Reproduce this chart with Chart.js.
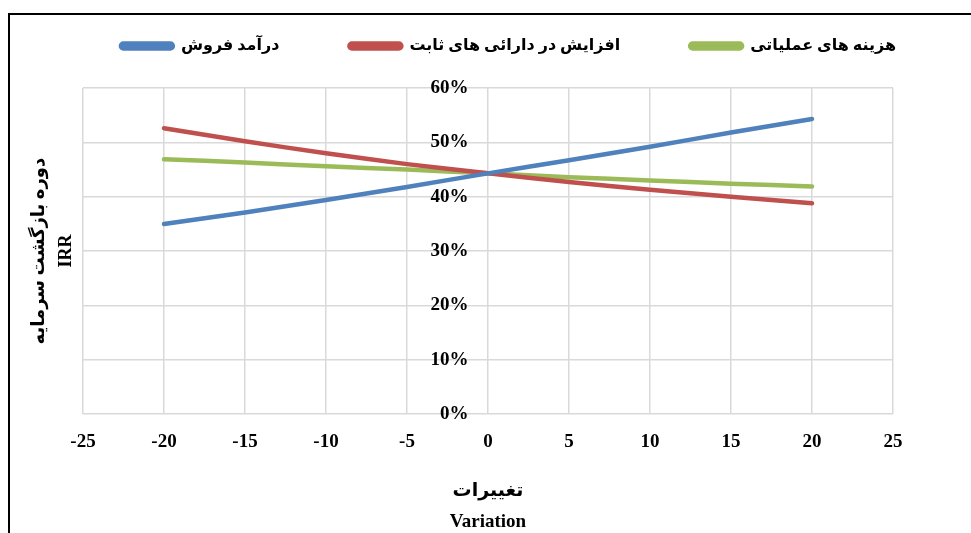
<!DOCTYPE html>
<html>
<head>
<meta charset="utf-8">
<script src="https://cdn.jsdelivr.net/npm/chart.js@4"></script>
<style>
    html, body { margin: 0; padding: 0; background: #fff; overflow: hidden; }
    #frame { position: absolute; left: 8px; top: 13px; width: 1000px; height: 600px; border: 2px solid #000; }
    #wrap { position: absolute; left: 0; top: 0; width: 971px; height: 545px; }
</style>
</head>
<body>
<div id="frame"></div>
<div id="wrap"><canvas id="chart" width="971" height="545"></canvas></div>

<script>
    // variation steps (x) and IRR in percent for each sensitivity series
    var variation = [-20, -15, -10, -5, 0, 5, 10, 15, 20];
    var salesRevenue = [35.0, 37.1, 39.4, 41.8, 44.3, 46.7, 49.2, 51.8, 54.3];
    var fixedAssets = [52.6, 50.2, 48.0, 46.0, 44.3, 42.7, 41.3, 40.0, 38.8];
    var operatingCosts = [46.9, 46.3, 45.6, 45.0, 44.3, 43.6, 43.0, 42.4, 41.9];

    var seriesNames = ['درآمد فروش', 'افزایش در دارائی های ثابت', 'هزینه های عملیاتی'];
    var yTitle = ['دوره بازگشت سرمایه', 'IRR'];
    var xTitle = ['تغییرات', 'Variation'];

    var FONT = "'Liberation Serif', 'DejaVu Sans', serif";
    var GRID = '#d9d9d9';

    function points(values) {
        return values.map(function (v, i) { return {x: variation[i], y: v}; });
    }

    function series(label, values, color) {
        return {
            label: label,
            data: points(values),
            borderColor: color,
            backgroundColor: color,
            borderWidth: 4.5,
            borderCapStyle: 'round',
            pointRadius: 0,
            tension: 0.3
        };
    }

    var datasets = [
        series(seriesNames[0], salesRevenue, '#4f81bd'),
        series(seriesNames[1], fixedAssets, '#c0504d'),
        series(seriesNames[2], operatingCosts, '#9bbb59')
    ];

    // extra room under the legend and a small sideways nudge of its row
    var legendGap = 24;
    var legendShift = 12;
    var legendPlacement = {
        id: 'legendPlacement',
        beforeInit: function (chart) {
            var fit = chart.legend.fit;
            chart.legend.fit = function () {
                fit.call(this);
                this.height += legendGap;
            };
        },
        afterLayout: function (chart) {
            chart.legend.left += legendShift;
            chart.legend.right += legendShift;
        }
    };

    var config = {
        type: 'line',
        data: { datasets: datasets },
        options: {
            responsive: false,
            animation: false,
            layout: { padding: { left: 22, right: 0, top: -32, bottom: 7 } },
            plugins: {
                legend: {
                    position: 'top',
                    labels: {
                        font: { family: FONT, size: 16, weight: 'bold' },
                        color: '#000',
                        boxWidth: 52,
                        boxHeight: 5,
                        useBorderRadius: true,
                        borderRadius: 2.5,
                        padding: 70
                    }
                },
                tooltip: { enabled: false }
            },
            scales: {
                x: {
                    type: 'linear',
                    position: 'bottom',
                    min: -25,
                    max: 25,
                    ticks: {
                        stepSize: 5,
                        padding: 16,
                        color: '#000',
                        font: { family: FONT, size: 19, weight: 'bold' }
                    },
                    grid: { color: GRID, lineWidth: 1.5, drawTicks: false },
                    border: { display: false },
                    title: {
                        display: true,
                        text: xTitle,
                        color: '#000',
                        font: { family: FONT, size: 19, weight: 'bold', lineHeight: '31px' },
                        padding: { top: 7, bottom: 0 }
                    }
                },
                y: {
                    type: 'linear',
                    position: { x: -1.2 },
                    min: 0,
                    max: 60,
                    ticks: {
                        stepSize: 10,
                        color: '#000',
                        font: { family: FONT, size: 19, weight: 'bold' },
                        callback: function (v) { return v + '%'; }
                    },
                    grid: { color: GRID, lineWidth: 1.5, drawTicks: false },
                    border: { display: false }
                },
                yTitle: {
                    type: 'linear',
                    position: 'left',
                    ticks: { display: false },
                    grid: { display: false },
                    border: { display: false },
                    title: {
                        display: true,
                        text: yTitle,
                        color: '#000',
                        font: { family: FONT, size: 18, weight: 'bold', lineHeight: 1.5 },
                        padding: { top: 4, bottom: 4 }
                    },
                    afterFit: function (scale) { scale.width = 61; }
                },
                yRight: {
                    type: 'linear',
                    position: 'right',
                    ticks: { display: false },
                    grid: { display: false },
                    border: { display: false },
                    afterFit: function (scale) { scale.width = 78; }
                }
            }
        },
        plugins: [legendPlacement]
    };

    var chart = new Chart(document.getElementById('chart'), config);
</script>
</body>
</html>
